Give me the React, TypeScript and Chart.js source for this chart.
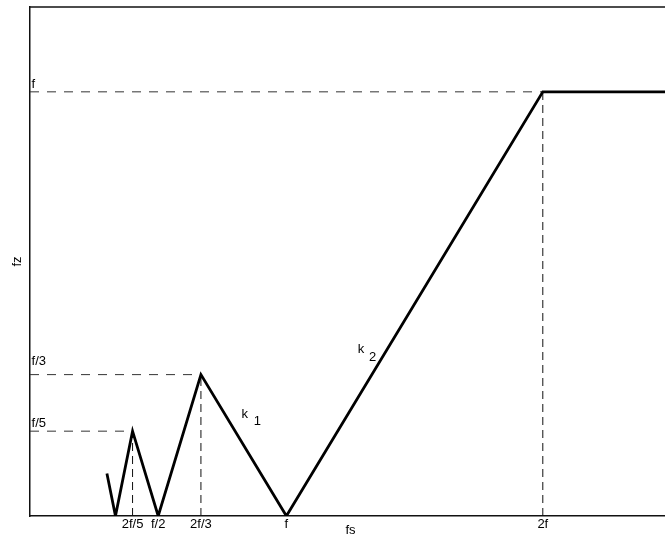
import React, { useEffect, useRef } from "react";
import { Chart, registerables } from "chart.js";

Chart.register(...registerables);

// Apparent (aliased) frequency fz against sampling frequency fs, in units of f
const curveFs = [0.3, 1 / 3, 0.4, 0.5, 2 / 3, 1, 2, 2.5];
const curveFz = [0.1, 0, 0.2, 0, 1 / 3, 0, 1, 1];

// Dashed guide segments: [x0, y0, x1, y1]
const guideH = [
  [0, 1, 2, 1],
  [0, 1 / 3, 2 / 3, 1 / 3],
  [0, 0.2, 0.4, 0.2],
];
const guideV = [
  [0.4, 0, 0.4, 0.2],
  [2 / 3, 0, 2 / 3, 1 / 3],
  [2, 0, 2, 1],
];

// Labelled positions on the fs axis
const xTickValues = [0.4, 0.5, 2 / 3, 1, 2];
const xTickLabels = ["2f/5", "f/2", "2f/3", "f", "2f"];

// Text notes inside the plot (anchored at their left baseline)
const noteText = ["f", "f/3", "f/5", "k", "1", "k", "2"];
const noteX = [0.006, 0.006, 0.006, 0.825, 0.873, 1.278, 1.322];
const noteY = [1.008, 0.356, 0.21, 0.231, 0.215, 0.385, 0.366];

const FONT = "'Liberation Sans', Arial, Helvetica, sans-serif";

const segmentsToPoints = (segs: number[][]) => {
  const pts: { x: number; y: number | null }[] = [];
  segs.forEach(([x0, y0, x1, y1]) => {
    pts.push({ x: x0, y: y0 }, { x: x1, y: y1 }, { x: x1, y: null });
  });
  return pts;
};

const framePlugin = {
  id: "frameTop",
  afterDraw(chart: any) {
    const { ctx, chartArea } = chart;
    ctx.save();
    ctx.strokeStyle = "#111";
    ctx.lineWidth = 1.5;
    ctx.beginPath();
    ctx.moveTo(chartArea.left - 0.75, chartArea.top);
    ctx.lineTo(chartArea.right, chartArea.top);
    ctx.stroke();
    ctx.restore();
  },
};

const notesPlugin = {
  id: "notes",
  afterDatasetsDraw(chart: any) {
    const { ctx, scales } = chart;
    ctx.save();
    ctx.fillStyle = "#000";
    ctx.font = `13px ${FONT}`;
    ctx.textAlign = "left";
    ctx.textBaseline = "alphabetic";
    noteText.forEach((t, i) => {
      ctx.fillText(t, scales.x.getPixelForValue(noteX[i]), scales.y.getPixelForValue(noteY[i]));
    });
    ctx.restore();
  },
};

export default function App() {
  const canvasRef = useRef<HTMLCanvasElement | null>(null);

  useEffect(() => {
    if (!canvasRef.current) return;
    const chart = new Chart(canvasRef.current, {
      type: "line",
      data: {
        datasets: [
          {
            data: curveFs.map((x, i) => ({ x, y: curveFz[i] })),
            borderColor: "#000",
            borderWidth: 2.8,
            borderJoinStyle: "miter",
            pointRadius: 0,
            tension: 0,
            order: 0,
          },
          {
            data: segmentsToPoints(guideH),
            borderColor: "#333",
            borderWidth: 1,
            borderDash: [9, 8],
            pointRadius: 0,
            spanGaps: false,
            order: 1,
          },
          {
            data: segmentsToPoints(guideV),
            borderColor: "#111",
            borderWidth: 1,
            borderDash: [8, 5],
            pointRadius: 0,
            spanGaps: false,
            order: 1,
          },
        ],
      },
      options: {
        animation: false,
        responsive: false,
        devicePixelRatio: 1,
        layout: { padding: { top: 7, right: 2, bottom: 0, left: 0 } },
        plugins: { legend: { display: false }, tooltip: { enabled: false } },
        scales: {
          x: {
            type: "linear",
            min: 0,
            max: 2.5,
            grid: { display: false, drawTicks: false },
            border: { display: true, color: "#111", width: 1.5 },
            afterBuildTicks: (axis: any) => {
              axis.ticks = xTickValues.map((v) => ({ value: v }));
            },
            afterFit: (axis: any) => {
              axis.height = 20;
            },
            ticks: {
              autoSkip: false,
              maxRotation: 0,
              padding: 1,
              color: "#000",
              font: { family: FONT, size: 13 },
              callback: (_v: any, i: number) => xTickLabels[i],
            },
            title: {
              display: true,
              text: "fs",
              color: "#000",
              font: { family: FONT, size: 13, lineHeight: 1 },
              padding: { top: 0, bottom: -1 },
            },
          },
          y: {
            type: "linear",
            min: 0,
            max: 1.2,
            grid: { display: false, drawTicks: false },
            border: { display: true, color: "#111", width: 1.5 },
            ticks: { display: false },
            afterFit: (axis: any) => {
              axis.width = 30;
            },
            title: {
              display: true,
              text: "fz",
              color: "#000",
              font: { family: FONT, size: 13, lineHeight: 1 },
              padding: { top: 11, bottom: 0 },
            },
          },
        },
      },
      plugins: [framePlugin, notesPlugin],
    } as any);
    return () => chart.destroy();
  }, []);

  return (
    <div
      style={{
        position: "absolute",
        left: 0,
        top: 0,
        width: 665,
        height: 536,
        overflow: "hidden",
        background: "#fff",
      }}
    >
      <canvas ref={canvasRef} width={673} height={536} style={{ display: "block" }} />
    </div>
  );
}
